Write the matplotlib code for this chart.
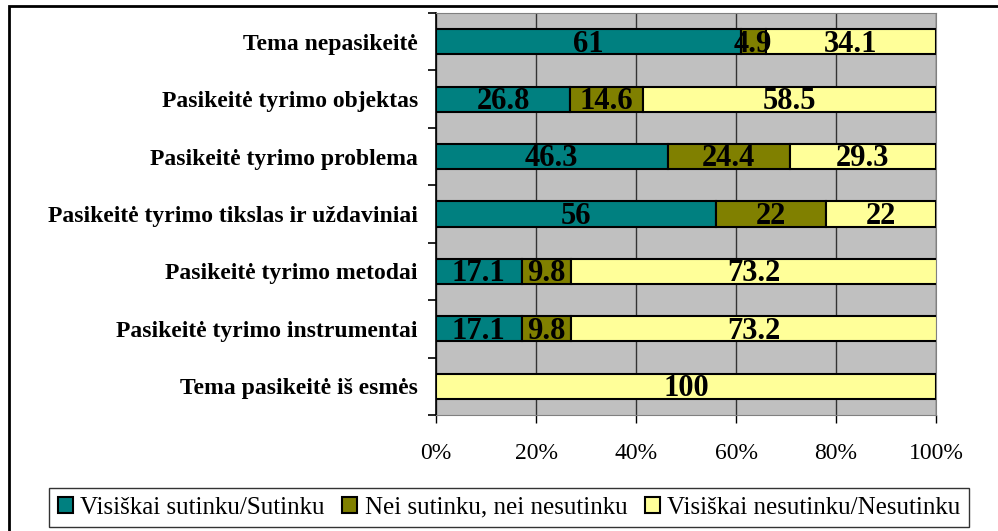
import matplotlib.pyplot as plt
import numpy as np
from matplotlib.patches import Rectangle

plt.rcParams['font.family'] = ['Liberation Serif', 'DejaVu Serif']

# categories, bottom to top as drawn
categories = ["Tema pasikeitė iš esmės",
              "Pasikeitė tyrimo instrumentai",
              "Pasikeitė tyrimo metodai",
              "Pasikeitė tyrimo tikslas ir uždaviniai",
              "Pasikeitė tyrimo problema",
              "Pasikeitė tyrimo objektas",
              "Tema nepasikeitė"]
sutinku = [0, 17.1, 17.1, 56, 46.3, 26.8, 61]
nei = [0, 9.8, 9.8, 22, 24.4, 14.6, 4.9]
nesutinku = [100, 73.2, 73.2, 22, 29.3, 58.5, 34.1]
series_names = ["Visiškai sutinku/Sutinku",
                "Nei sutinku, nei nesutinku",
                "Visiškai nesutinku/Nesutinku"]
colors = ["#008080", "#808000", "#FFFF99"]

fig = plt.figure(figsize=(9.98, 5.31), dpi=100)
ax = fig.add_axes([0.4369, 0.2185, 0.501, 0.757])
ax.set_facecolor("#C0C0C0")

y = np.arange(len(categories))
left = np.zeros(len(categories))
for vals, name, col in zip([sutinku, nei, nesutinku], series_names, colors):
    vals = np.array(vals)
    ax.barh(y, vals, left=left, height=0.44, color=col, edgecolor="black",
            linewidth=1.5, label=name, zorder=3)
    for yi, v, l in zip(y, vals, left):
        if v > 0:
            ax.text(l + v / 2, yi - 0.04, f"{v:g}", ha="center", va="center",
                    fontsize=22, fontweight="bold", zorder=4)
    left = left + vals

ax.set_xlim(0, 100)
ax.set_ylim(-0.5, len(categories) - 0.5)
ax.set_xticks([0, 20, 40, 60, 80, 100])
ax.set_xticklabels(["0%", "20%", "40%", "60%", "80%", "100%"], fontsize=17)
ax.xaxis.grid(True, color="#333333", linewidth=1, zorder=1)
ax.set_yticks(y)
ax.set_yticklabels(categories, fontsize=17, fontweight="bold")
ax.set_yticks(np.arange(-0.5, len(categories)), minor=True)
ax.tick_params(axis="y", which="major", length=0, pad=13)
ax.tick_params(axis="y", which="minor", length=6, width=1.2, direction="out")
ax.tick_params(axis="x", length=6, width=1, direction="out", pad=14)
for s in ["top", "right"]:
    ax.spines[s].set_color("#808080")
ax.spines["left"].set_linewidth(1.2)
ax.spines["bottom"].set_color("#808080")

fig.legend(loc="lower center", bbox_to_anchor=(0.51, 0.0), ncol=3, fontsize=18,
           frameon=True, fancybox=False, edgecolor="black", handlelength=0.6,
           handleheight=0.6, handletextpad=0.3, columnspacing=0.7,
           borderpad=0.35, borderaxespad=0.15)

# outer chart border
fig.patches.append(Rectangle((9 / 998, -0.1), 1.2, 1 - 6 / 531 + 0.1,
                             transform=fig.transFigure, fill=False,
                             edgecolor="black", linewidth=2))

fig.savefig("out.png", dpi=100)
